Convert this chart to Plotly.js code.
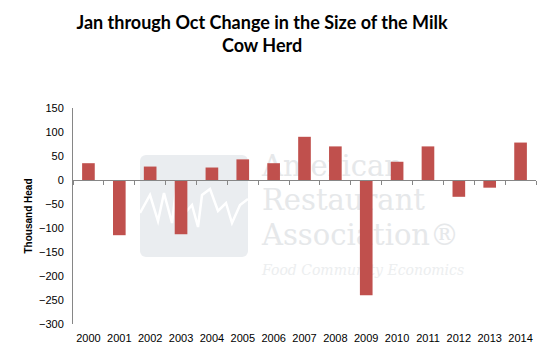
<!DOCTYPE html>
<html><head><meta charset="utf-8">
<script src="https://cdn.plot.ly/plotly-3.0.1.min.js"></script>
<style>
html,body{margin:0;padding:0;background:#fff}
#wrap{position:relative;width:560px;height:363px}
#wm{position:absolute;left:0;top:0;width:560px;height:363px;z-index:0}
#chart{position:absolute;left:0;top:0;width:560px;height:363px;z-index:1}
.wmbox{position:absolute;left:140px;top:155px;width:108px;height:102px;background:#eaedf0;border-radius:6px}
.wmt{position:absolute;left:262px;font-family:'DejaVu Serif',serif;color:#e6e8ea;font-size:29px;line-height:29px;white-space:nowrap}
.wms{position:absolute;left:262px;font-family:'DejaVu Serif',serif;font-style:italic;color:#eceeef;font-size:14px;white-space:nowrap}
</style>
</head><body><div id="wrap">
<div id="wm">
  <div class="wmbox"><svg width="108" height="102"><polyline points="0,58 10,40 18,66 24,38 32,68 37,26 45,58 52,50 58,72 62,40 70,34 78,56 86,48 92,68 100,50 108,44" fill="none" stroke="#fff" stroke-width="2.5"/></svg></div>
  <div class="wmt" style="top:152px">American</div>
  <div class="wmt" style="top:186px">Restaurant</div>
  <div class="wmt" style="top:221px">Association®</div>
  <div class="wms" style="top:262px">Food Community Economics</div>
</div>
<div id="chart"></div></div>
<script>
const years = ['2000','2001','2002','2003','2004','2005','2006','2007','2008','2009','2010','2011','2012','2013','2014'];
const herdChange = [35, -115, 28, -113, 26, 43, 35, 90, 70, -240, 38, 70, -35, -16, 78];
const yTickVals = [150, 100, 50, 0, -50, -100, -150, -200, -250, -300];
const yRange = [-300, 150];
const titleText = 'Jan through Oct Change in the Size of the Milk<br>Cow Herd';
const yTitle = 'Thousand Head';

const zeroPos = (0 - yRange[0]) / (yRange[1] - yRange[0]);

const data = [{
  type: 'bar', x: years, y: herdChange,
  marker: {color: '#C0504D', line: {width: 0}},
  hoverinfo: 'x+y'
}];

const layout = {
  width: 560, height: 363,
  margin: {l: 73, r: 24, t: 108, b: 39},
  paper_bgcolor: 'rgba(0,0,0,0)', plot_bgcolor: 'rgba(0,0,0,0)',
  bargap: 0.59,
  showlegend: false,
  title: {text: titleText, font: {family: 'Lato, Arial, sans-serif', size: 18, color: '#000', weight: 'bold'},
          xref: 'container', x: 0.468, xanchor: 'center', yref: 'container', y: 0.92, yanchor: 'top'},
  xaxis: {type: 'category', anchor: 'free', position: zeroPos,
          showline: true, linecolor: '#868686', linewidth: 1,
          ticks: 'outside', tickson: 'boundaries', ticklen: 4, tickcolor: '#868686',
          ticklabelstandoff: 148, tickangle: 0,
          tickfont: {family: 'Liberation Sans, Arial, sans-serif', size: 11, color: '#000'},
          showgrid: false, zeroline: false, fixedrange: true},
  yaxis: {range: yRange, tickvals: yTickVals, showline: true, linecolor: '#868686', linewidth: 1,
          ticks: '', showgrid: false, zeroline: false, ticklabelstandoff: 6,
          tickfont: {family: 'Liberation Sans, Arial, sans-serif', size: 11, color: '#000'},
          title: {text: yTitle, font: {family: 'Liberation Sans, Arial, sans-serif', size: 10, color: '#000', weight: 'bold'}, standoff: 4}}
};

Plotly.newPlot('chart', data, layout, {displayModeBar: false, staticPlot: true});
</script></body></html>
